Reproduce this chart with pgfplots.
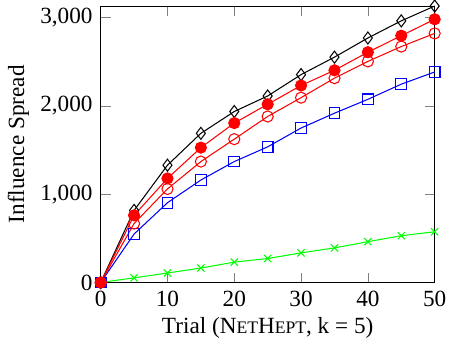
\documentclass[border=0pt]{standalone}
\usepackage{fontspec}
\setmainfont{Liberation Serif}
\usepackage{pgfplots}
\pgfplotsset{compat=1.18}
\begin{document}
\begin{tikzpicture}
\begin{axis}[
  scale only axis,
  width=144pt, height=119.2pt,
  xmin=0, xmax=50, ymin=0, ymax=3132,
  xtick={0,10,20,30,40,50},
  ytick={0,1000,2000,3000},
  scaled y ticks=false,
  /pgf/number format/assume math mode=true,
  /pgf/number format/1000 sep={,},
  xlabel={Trial (N{\fontsize{7.6}{9}\selectfont ET}H{\fontsize{7.6}{9}\selectfont EPT}, k = 5)},
  ylabel={Influence Spread},
  xlabel style={yshift=2pt},
  ylabel style={yshift=-2pt},
  clip=false,
  every axis plot/.append style={line width=0.45pt},
]
\addplot[green, mark=x, mark size=2.2pt] coordinates {
(0,0) (5,53) (10,108) (15,164) (20,231) (25,272) (30,336) (35,392) (40,463) (45,530) (50,575)};
\addplot[blue, mark=square, mark size=2.3pt] coordinates {
(0,0) (5,549) (10,904) (15,1161) (20,1370) (25,1537) (30,1750) (35,1918) (40,2075) (45,2247) (50,2385)};
\addplot[red, mark=o, mark size=2.4pt] coordinates {
(0,0) (5,668) (10,1060) (15,1370) (20,1624) (25,1881) (30,2094) (35,2315) (40,2505) (45,2673) (50,2822)};
\addplot[black, mark=diamond, mark size=2.6pt] coordinates {
(0,0) (5,817) (10,1329) (15,1690) (20,1937) (25,2113) (30,2355) (35,2553) (40,2770) (45,2964) (50,3132)};
\addplot[red, mark=*, mark size=2.4pt] coordinates {
(0,0) (5,761) (10,1179) (15,1528) (20,1806) (25,2019) (30,2232) (35,2404) (40,2609) (45,2796) (50,2982)};
\end{axis}
\end{tikzpicture}
\end{document}
